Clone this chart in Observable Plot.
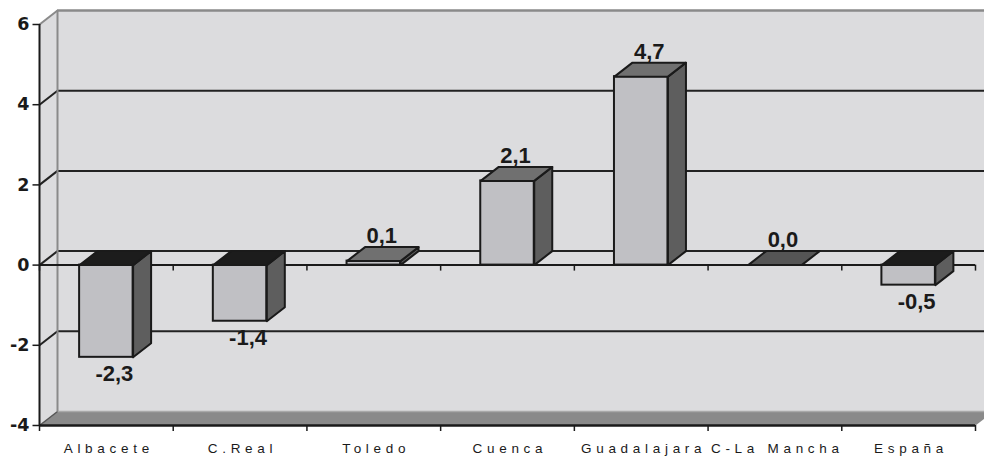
<!DOCTYPE html>
<html><head><meta charset="utf-8">
<script src="https://cdn.jsdelivr.net/npm/d3@7"></script>
<script src="https://cdn.jsdelivr.net/npm/@observablehq/plot@0.6"></script>
<style>
html,body{margin:0;padding:0;background:#fff;overflow:hidden}
#chart svg{overflow:hidden !important;display:block}
</style></head><body><div id="chart"></div>
<script>
const categories = ["Albacete","C.Real","Toledo","Cuenca","Guadalajara","C-La Mancha","España"];
const values = [-2.3,-1.4,0.1,2.1,4.7,0.0,-0.5];
const yTicks = [-4,-2,0,2,4,6];

const W=984,H=456,mL=39,mR=9,mT=24,mB=31;
const yMin=-4,yMax=6;
const xMax=categories.length;
const pxX=(W-mL-mR)/xMax, pxY=(H-mT-mB)/(yMax-yMin);
const d=18/pxX, dv=14/pxY;   // 3-D depth in data units
const pad=0.3;

const bars=categories.map((c,i)=>({c,i,v:values[i],xl:i+pad,xr:i+1-pad,xc:i+0.5,
  label:values[i].toFixed(1).replace(".",",")}));
const poly=(id,pts)=>pts.map(([x,y])=>({id,x,y}));
const sidePts=bars.filter(b=>b.v!==0).flatMap(b=>poly(b.c,[[b.xr,0],[b.xr+d,dv],[b.xr+d,b.v+dv],[b.xr,b.v]]));
const topOf=b=>{const t=Math.max(b.v,0);return poly(b.c,[[b.xl,t],[b.xr,t],[b.xr+d,t+dv],[b.xl+d,t+dv]]);};
const topPos=bars.filter(b=>b.v>0).flatMap(topOf);
const topZero=bars.filter(b=>b.v===0).flatMap(topOf);
const topNeg=bars.filter(b=>b.v<0).flatMap(topOf);
const leftWall=poly("lw",[[0,yMin],[d,yMin+dv],[d,yMax+dv],[0,yMax]]);
const floorPts=poly("fl",[[0,yMin],[xMax,yMin],[xMax+d,yMin+dv],[d,yMin+dv]]);
const inner=yTicks.filter(t=>t>yMin&&t<yMax);
const bounds=d3.range(0,xMax+1);
const poly3=(data,fill,stroke)=>Plot.line(data,{x:"x",y:"y",z:"id",curve:"linear-closed",fill,stroke:stroke||"none",strokeWidth:2,strokeLinejoin:"round"});
const ink="#1a1a1a";

const plot=Plot.plot({
  width:W,height:H,marginLeft:mL,marginRight:mR,marginTop:mT,marginBottom:mB,
  style:{fontFamily:"Arial, 'Liberation Sans', sans-serif",fontSize:"19px",color:ink,background:"#fff"},
  x:{type:"linear",domain:[0,xMax],axis:null},
  y:{domain:[yMin,yMax],axis:null},
  marks:[
    Plot.rect([0],{x1:d,x2:xMax+d+1,y1:yMin+dv,y2:yMax+dv,fill:"#dcdcde"}),
    poly3(leftWall,"#dcdcde"),
    poly3(floorPts,"#8a8a8a"),
    Plot.ruleY([yMin+dv],{x1:d,x2:xMax+d+1,stroke:"#a9a9a9",strokeWidth:1.5}),
    Plot.ruleY(inner.map(t=>t+dv),{x1:d,x2:xMax+d+1,stroke:"#222",strokeWidth:2}),
    Plot.link(inner,{x1:0,y1:t=>t,x2:d,y2:t=>t+dv,stroke:"#222",strokeWidth:2}),
    Plot.link([yMax],{x1:0,y1:t=>t,x2:d,y2:t=>t+dv,stroke:"#8a8a8a",strokeWidth:2}),
    Plot.link([yMin],{x1:0,y1:t=>t,x2:d,y2:t=>t+dv,stroke:"#555",strokeWidth:1.5}),
    Plot.ruleY([yMax+dv],{x1:d,x2:xMax+d+1,stroke:"#8a8a8a",strokeWidth:2.5}),
    Plot.ruleX([d],{y1:yMin+dv,y2:yMax+dv,stroke:"#8a8a8a",strokeWidth:2}),
    Plot.ruleY([0],{x1:0,x2:xMax,stroke:ink,strokeWidth:2}),
    Plot.ruleX(bounds,{y1:0,y2:-6/pxY,stroke:ink,strokeWidth:1.5}),
    Plot.rect(bars,{x1:"xl",x2:"xr",y1:0,y2:"v",fill:"#c0c0c4",stroke:ink,strokeWidth:2}),
    poly3(sidePts,"#5e5e5e",ink),
    poly3(topPos,"#707070",ink),
    poly3(topZero,"#555555",ink),
    poly3(topNeg,"#1c1c1c",ink),
    Plot.text(bars.filter(b=>b.v>=0),{x:"xc",y:"v",text:"label",dx:8,dy:-25,fontSize:22,fontWeight:"bold",fill:ink}),
    Plot.text(bars.filter(b=>b.v<0),{x:"xc",y:"v",text:"label",dx:8,dy:17,fontSize:22,fontWeight:"bold",fill:ink}),
    // category axis
    Plot.ruleX(bounds,{y1:yMin,y2:yMin-6/pxY,stroke:ink,strokeWidth:1.5}),
    Plot.text(bars,{x:"xc",y:yMin,text:"c",dy:23,fontSize:13.5,fontWeight:"normal",fill:ink}),
    // value axis
    Plot.link(yTicks,{x1:-7/pxX,x2:0,y1:t=>t,y2:t=>t,stroke:ink,strokeWidth:1.5}),
    Plot.text(yTicks,{x:0,y:t=>t,text:t=>String(t),textAnchor:"end",dx:-10,fontSize:17.5,fontWeight:"bold",fontFamily:"'DejaVu Sans', sans-serif",fill:ink}),
    Plot.ruleX([0],{y1:yMin,y2:yMax,stroke:ink,strokeWidth:2}),
    Plot.ruleY([yMin],{x1:0,x2:xMax,stroke:ink,strokeWidth:2.5})
  ]
});
d3.select(plot).selectAll("text").filter(function(){return categories.includes(this.textContent);})
  .style("letter-spacing","4.7px").attr("dx","2.4");
document.getElementById("chart").appendChild(plot);
</script></body></html>
